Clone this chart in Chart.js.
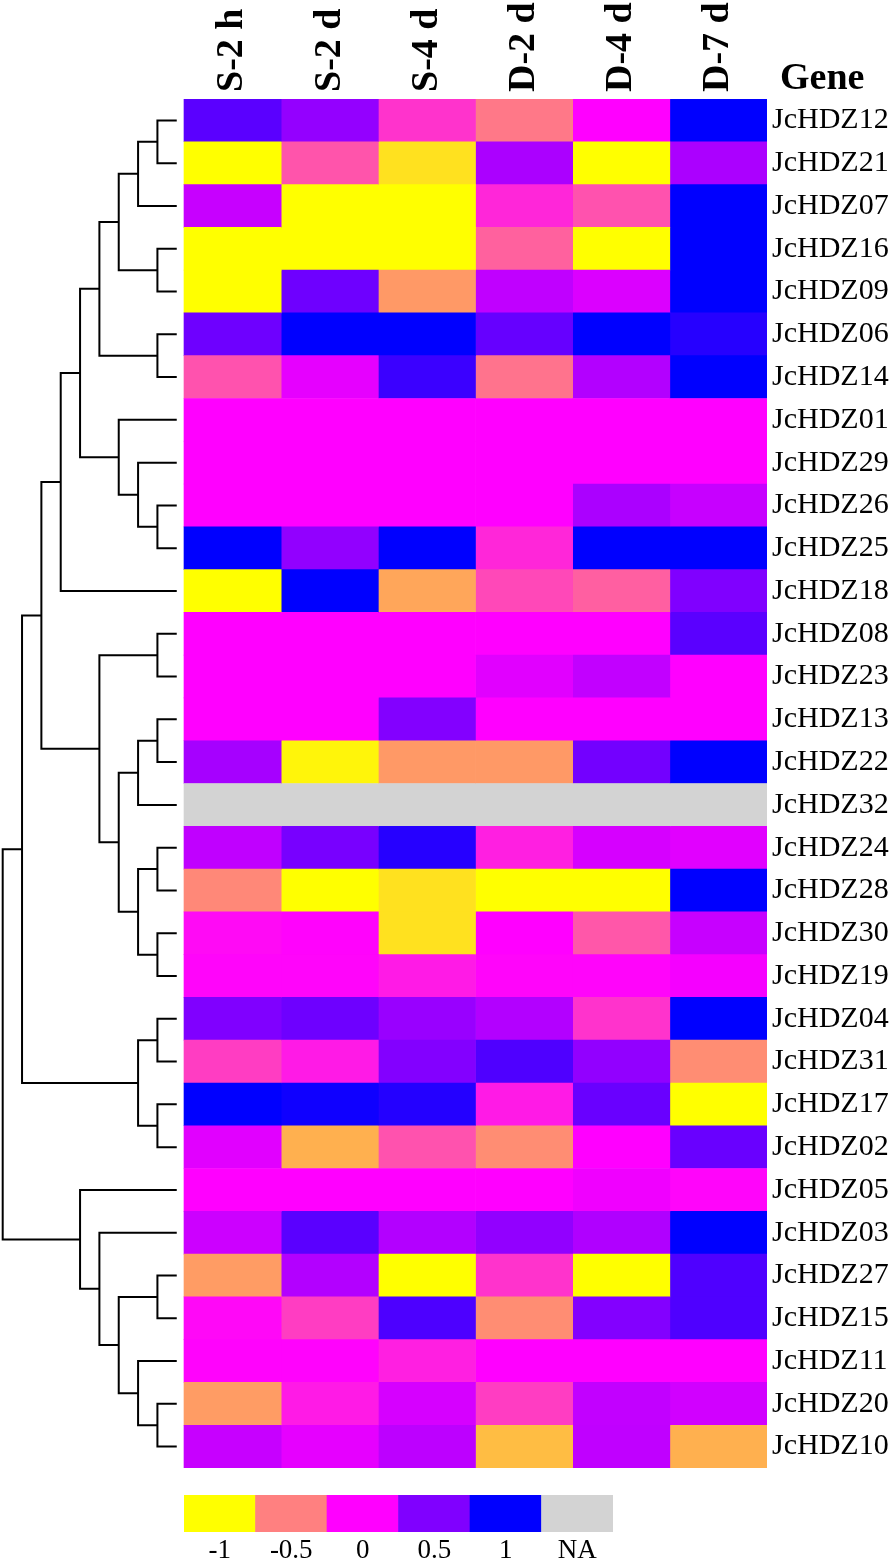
<!DOCTYPE html>
<html>
<head>
<meta charset="utf-8">
<script src="https://cdn.jsdelivr.net/npm/chart.js@4/dist/chart.umd.min.js"></script>
<style>
html,body{margin:0;padding:0;background:#ffffff;}
#wrap{position:relative;width:894px;height:1562px;overflow:hidden;}
#main{position:absolute;left:0;top:0;}
#leg{position:absolute;left:184px;top:1495px;}
</style>
</head>
<body>
<div id="wrap">
<canvas id="main" width="894" height="1562"></canvas>
<canvas id="leg" width="429" height="67"></canvas>
</div>
<script>
const SERIF = '"Liberation Serif", "Times New Roman", Times, serif';

// ---------- data ----------
const genes = ['JcHDZ12','JcHDZ21','JcHDZ07','JcHDZ16','JcHDZ09','JcHDZ06','JcHDZ14','JcHDZ01',
  'JcHDZ29','JcHDZ26','JcHDZ25','JcHDZ18','JcHDZ08','JcHDZ23','JcHDZ13','JcHDZ22',
  'JcHDZ32','JcHDZ24','JcHDZ28','JcHDZ30','JcHDZ19','JcHDZ04','JcHDZ31','JcHDZ17',
  'JcHDZ02','JcHDZ05','JcHDZ03','JcHDZ27','JcHDZ15','JcHDZ11','JcHDZ20','JcHDZ10'];

const conditions = ['S-2 h','S-2 d','S-4 d','D-2 d','D-4 d','D-7 d'];

const valS2h = [0.65,-1,0.22,-1,-1,0.57,-0.32,0,0,0,1,-1,0,0,0,0.35,null,0.25,-0.53,-0.04,-0.02,0.5,-0.24,1,0.12,0,0.2,-0.61,-0.03,-0.01,-0.61,0.22];
const valS2d = [0.42,-0.33,-1,-1,0.57,1,0.1,0,0,0,0.43,1,0,0,0,-0.96,null,0.53,-1,-0.01,-0.02,0.57,-0.1,0.94,-0.69,0,0.65,0.3,-0.24,-0.01,-0.1,0.1];
const valS4d = [-0.2,-0.88,-1,-1,-0.6,1,0.77,0,0,0,1,-0.65,0,0,0.49,-0.6,null,0.85,-0.88,-0.88,-0.1,0.4,0.49,0.86,-0.32,0,0.3,-1,0.7,-0.12,0.16,0.26];
const valD2d = [-0.47,0.33,-0.15,-0.38,0.25,0.6,-0.45,0,0,0,-0.15,-0.28,0,0.12,0,-0.6,null,-0.12,-1,0,-0.02,0.3,0.69,-0.1,-0.55,0,0.43,-0.2,-0.55,0,-0.24,-0.74];
const valD4d = [0,-1,-0.32,-1,0.14,1,0.3,0,0,0.33,1,-0.37,0,0.24,0,0.55,null,0.16,-1,-0.34,-0.02,-0.2,0.43,0.59,0,0.06,0.31,-1,0.49,0,0.24,0.25];
const valD7d = [1,0.33,1,1,1,0.85,1,0,0,0.22,1,0.5,0.65,0,0,1,null,0.12,1,0.22,0.04,1,-0.55,-1,0.59,-0.02,1,0.69,0.69,0,0.18,-0.69];

// colour key
const colorStops = [-1,-0.5,0,0.5,1];
const colorHex = ['#FFFF00','#FF8080','#FF00FF','#8000FF','#0000FF'];
const naColor = '#D3D3D3';
const legendLabels = ['-1','-0.5','0','0.5','1','NA'];
const legendValues = [-1,-0.5,0,0.5,1,null];

// row dendrogram, hclust-style merges (negative = leaf row, positive = earlier merge)
const mergeA = [-1,1,-4,2,-6,4,-10,-9,-8,6,10,-13,-15,13,-18,-20,15,14,12,11,-22,-24,21,20,-28,-31,-30,25,-27,-26,24];
const mergeB = [-2,-3,-5,3,-7,5,-11,7,8,9,-12,-14,-16,-17,-19,-21,16,17,18,19,-23,-25,22,23,-29,-32,26,27,28,29,30];
const mergeLevel = [1,2,1,3,1,4,1,2,3,5,6,1,1,2,1,1,2,3,4,7,1,1,2,8,1,1,2,3,4,5,9];

// ---------- helpers ----------
const columns = [valS2h,valS2d,valS4d,valD2d,valD4d,valD7d];
function hexToRgb(h){return [parseInt(h.slice(1,3),16),parseInt(h.slice(3,5),16),parseInt(h.slice(5,7),16)];}
const stopRgb = colorHex.map(hexToRgb);
function valueColor(v){
  if (v === null || v === undefined || isNaN(v)) return naColor;
  const t = Math.max(colorStops[0], Math.min(colorStops[colorStops.length-1], v));
  let k = 0;
  while (k < colorStops.length-2 && t > colorStops[k+1]) k++;
  const f = (t - colorStops[k]) / (colorStops[k+1] - colorStops[k]);
  const a = stopRgb[k], b = stopRgb[k+1];
  const c = a.map((ch,i)=>Math.round(ch + (b[i]-ch)*f));
  return 'rgb(' + c.join(',') + ')';
}

// heatmap cells as floating horizontal bars
const heatDatasets = columns.map((vals, c) => ({
  type: 'bar',
  label: conditions[c],
  indexAxis: 'y',
  grouped: false,
  barPercentage: 1,
  categoryPercentage: 1,
  borderWidth: 0,
  xAxisID: 'x',
  yAxisID: 'y',
  data: genes.map((g, i) => ({ y: i, x: [c, c + 1] })),
  backgroundColor: vals.map(valueColor)
}));

// dendrogram segments
const nodeY = [], nodeH = [];
function childPos(k){ return k < 0 ? { y: -k - 1, h: 0 } : { y: nodeY[k - 1], h: nodeH[k - 1] }; }
const treeDatasets = mergeA.map((a, i) => {
  const A = childPos(a), B = childPos(mergeB[i]);
  const h = mergeLevel[i];
  nodeY[i] = (A.y + B.y) / 2;
  nodeH[i] = h;
  return {
    type: 'line',
    indexAxis: 'x',
    xAxisID: 'xd',
    yAxisID: 'y',
    data: [{x: A.h, y: A.y}, {x: h, y: A.y}, {x: h, y: B.y}, {x: B.h, y: B.y}],
    borderColor: '#000000',
    borderWidth: 2,
    pointRadius: 0,
    pointHoverRadius: 0,
    fill: false,
    tension: 0,
    borderJoinStyle: 'miter',
    clip: false
  };
});

// column headers + "Gene" title
const headerPlugin = {
  id: 'headers',
  afterDraw(chart) {
    const ctx = chart.ctx;
    const xs = chart.scales.x;
    const top = chart.chartArea.top;
    ctx.save();
    ctx.fillStyle = '#000';
    ctx.font = 'bold 38px ' + SERIF;
    ctx.textAlign = 'left';
    ctx.textBaseline = 'middle';
    conditions.forEach((c, i) => {
      const px = xs.getPixelForValue(i + 0.5);
      ctx.save();
      ctx.translate(px, top - 7);
      ctx.rotate(-Math.PI / 2);
      ctx.fillText(c, 0, 0);
      ctx.restore();
    });
    ctx.textBaseline = 'alphabetic';
    ctx.fillText('Gene', chart.chartArea.right + 13, top - 10);
    ctx.restore();
  }
};

new Chart(document.getElementById('main'), {
  type: 'bar',
  data: { datasets: heatDatasets.concat(treeDatasets) },
  options: {
    responsive: false,
    animation: false,
    events: [],
    layout: { autoPadding: false, padding: { left: 2, right: 0, top: 99, bottom: 94 } },
    plugins: { legend: { display: false }, tooltip: { enabled: false } },
    scales: {
      x: { type: 'linear', display: false, offset: false, min: -1.8731, max: 6 },
      xd: { type: 'linear', display: false, offset: false, reverse: true, min: -30.519, max: 9.036 },
      y: {
        type: 'linear', position: 'right', offset: false, reverse: true, min: -0.5, max: 31.5,
        grid: { display: false, drawTicks: false, offset: false },
        border: { display: false },
        afterBuildTicks: (ax) => { ax.ticks = genes.map((g, i) => ({ value: i })); },
        ticks: {
          autoSkip: false, padding: 5, color: '#000',
          font: { family: SERIF, size: 30 },
          callback: (v) => genes[Math.round(v)]
        },
        afterFit: (ax) => { ax.width = 127; }
      }
    }
  },
  plugins: [headerPlugin]
});

// colour key
new Chart(document.getElementById('leg'), {
  type: 'bar',
  data: {
    labels: legendLabels,
    datasets: [{
      data: legendLabels.map(() => 1),
      backgroundColor: legendValues.map(valueColor),
      barPercentage: 1,
      categoryPercentage: 1,
      borderWidth: 0
    }]
  },
  options: {
    responsive: false,
    animation: false,
    events: [],
    layout: { autoPadding: false, padding: 0 },
    plugins: { legend: { display: false }, tooltip: { enabled: false } },
    scales: {
      x: {
        grid: { display: false, drawTicks: false },
        border: { display: false },
        ticks: { color: '#000', padding: 3, font: { family: SERIF, size: 27 } },
        afterFit: (ax) => { ax.height = 30; }
      },
      y: { display: false, min: 0, max: 1 }
    }
  }
});
</script>
</body>
</html>
